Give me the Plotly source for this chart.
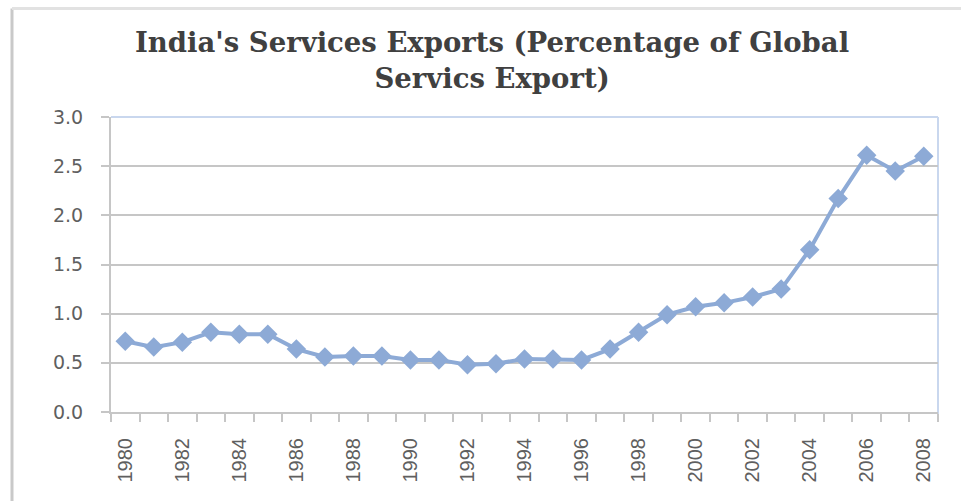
import plotly.graph_objects as go

# India's share of global services exports, percent
years = list(range(1980, 2009))
share = [0.72, 0.66, 0.71, 0.81, 0.79, 0.79, 0.64, 0.56, 0.57, 0.57,
         0.53, 0.53, 0.48, 0.49, 0.54, 0.54, 0.53, 0.64, 0.81, 0.99,
         1.07, 1.11, 1.17, 1.25, 1.65, 2.17, 2.61, 2.45, 2.60]
y_ticks = [0.0, 0.5, 1.0, 1.5, 2.0, 2.5, 3.0]
x_labels = [str(y) for y in years if y % 2 == 0]
title_text = "India's Services Exports (Percentage of Global<br>Servics Export)"

W, H = 961, 501
ML, MR, MT, MB = 111, 23, 117, 89
PW, PH = W - ML - MR, H - MT - MB

LINE = "#8DAAD6"
GRID = "#c6c6c6"
TXT = "#5f5f5f"


def px_x(p):
    return (p - ML) / PW


def px_y(p):
    return (H - MB - p) / PH


fig = go.Figure()
fig.add_trace(go.Scatter(
    x=years, y=share, mode="lines+markers",
    line=dict(color=LINE, width=4),
    marker=dict(symbol="diamond", size=15, color=LINE),
    showlegend=False, cliponaxis=False,
))

fig.update_layout(
    width=W, height=H,
    margin=dict(l=ML, r=MR, t=MT, b=MB),
    paper_bgcolor="white", plot_bgcolor="white",
    annotations=[dict(
        text=title_text, showarrow=False,
        xref="paper", yref="paper", x=px_x(492), y=px_y(60),
        xanchor="center", yanchor="middle", align="center",
        font=dict(family="DejaVu Serif", size=27.5, color="#404040",
                  weight="bold"),
    )],
    xaxis=dict(
        range=[1979.5, 2008.5], tickmode="array",
        tickvals=[int(s) for s in x_labels], ticktext=x_labels,
        tickangle=-90, ticks="outside", ticklen=8,
        tickcolor="rgba(0,0,0,0)", ticklabelstandoff=8,
        tickfont=dict(family="Liberation Sans", size=20, color=TXT),
        showgrid=False, zeroline=False,
        showline=True, linecolor=GRID, linewidth=2,
        minor=dict(tick0=1979.5, dtick=1, ticks="outside", ticklen=8,
                   tickcolor=GRID, tickwidth=2, showgrid=False),
    ),
    yaxis=dict(
        range=[0, 3.0], tickmode="array", tickvals=y_ticks,
        ticktext=[f"{v:.1f}" for v in y_ticks],
        ticks="outside", ticklen=8, tickcolor=GRID, tickwidth=2,
        ticklabelstandoff=14,
        tickfont=dict(family="DejaVu Sans", size=19, color=TXT),
        showgrid=True, gridcolor=GRID, gridwidth=2,
        zeroline=False, showline=True, linecolor=GRID, linewidth=2,
    ),
    shapes=[
        # plot area border on top and right
        dict(type="line", xref="paper", yref="paper", x0=0, x1=1, y0=1, y1=1,
             line=dict(color="#c9d7ee", width=2), layer="between"),
        dict(type="line", xref="paper", yref="paper", x0=1, x1=1, y0=px_y(421), y1=1,
             line=dict(color="#c9d7ee", width=2), layer="between"),
        # outer chart frame
        dict(type="line", xref="paper", yref="paper",
             x0=px_x(12), x1=px_x(12), y0=px_y(H + 5), y1=px_y(8.5),
             line=dict(color="#c9c9c9", width=3)),
        dict(type="line", xref="paper", yref="paper",
             x0=px_x(12), x1=px_x(W + 5), y0=px_y(8.5), y1=px_y(8.5),
             line=dict(color="#e2e2e2", width=3)),
    ],
)

fig.write_html("out.html")
